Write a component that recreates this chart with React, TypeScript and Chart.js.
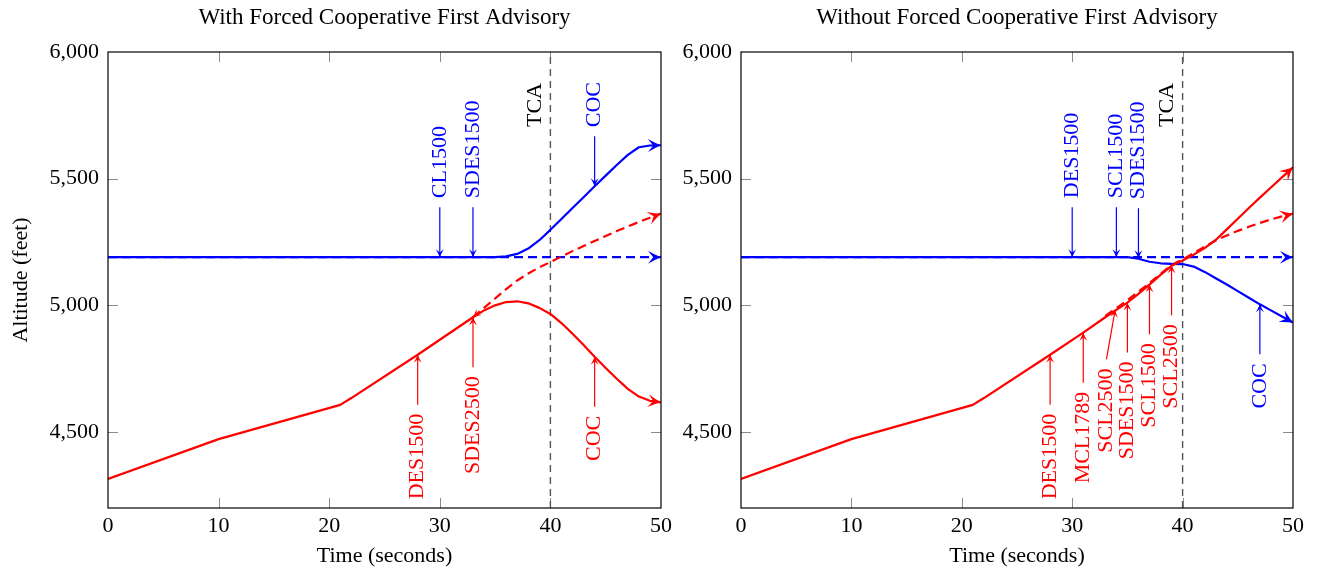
import React, { useEffect, useRef } from "react";
import { Chart, registerables } from "chart.js";

Chart.register(...registerables);

const FONT_FAMILY = '"Liberation Serif", "Times New Roman", serif';
const FONT_SIZE = 22;
const TITLE_SIZE = 23;
const OWN_COLOR = "#0000ff";
const INTRUDER_COLOR = "#ff0000";
const TCA_COLOR = "#555555";
const TICK_COLOR = "#8a8a8a";

// Axes
const xTicks = [0, 10, 20, 30, 40, 50];
const xTickLabels = ["0", "10", "20", "30", "40", "50"];
const yTicks = [4500, 5000, 5500, 6000];
const yTickLabels = ["4,500", "5,000", "5,500", "6,000"];
const timeMin = 0;
const timeMax = 50;
const altMin = 4200;
const altMax = 6000;
const tcaTime = 40;

// Panel 1: with forced cooperative first advisory
const withOwnT = [0, 35, 36, 37, 38, 39, 40, 41, 42, 43, 44, 45, 46, 47, 48, 49, 50];
const withOwnAlt = [5190, 5190, 5193, 5203, 5224, 5257, 5298, 5341, 5384, 5427, 5470, 5512, 5554, 5594, 5624, 5631, 5632];
const withOwnPlanT = [0, 50];
const withOwnPlanAlt = [5190, 5190];
const withIntruderT = [0, 10, 21, 22, 28, 33, 34, 35, 36, 37, 38, 39, 40, 41, 42, 43, 44, 45, 46, 47, 48, 49, 50];
const withIntruderAlt = [4315, 4472, 4607, 4634, 4805, 4953, 4980, 5000, 5013, 5016, 5008, 4990, 4966, 4930, 4888, 4843, 4797, 4753, 4710, 4670, 4640, 4623, 4617];
const withIntruderPlanT = [33, 34, 35, 36, 37, 38, 39, 40, 41, 42, 43, 44, 45, 46, 47, 48, 49, 50];
const withIntruderPlanAlt = [4953, 4990, 5027, 5064, 5098, 5126, 5150, 5171, 5193, 5214, 5234, 5254, 5274, 5293, 5311, 5329, 5346, 5362];

type Advisory = { label: string; t: number; alt: number; labelT?: number };

const withOwnAdvisories: Advisory[] = [
  { label: "CL1500", t: 30, alt: 5190 },
  { label: "SDES1500", t: 33, alt: 5190 },
  { label: "COC", t: 44, alt: 5470 },
];
const withIntruderAdvisories: Advisory[] = [
  { label: "DES1500", t: 28, alt: 4805 },
  { label: "SDES2500", t: 33, alt: 4953 },
  { label: "COC", t: 44, alt: 4797 },
];

// Panel 2: without forced cooperative first advisory
const withoutOwnT = [0, 35, 36, 37, 38, 39, 40, 41, 42, 43, 44, 45, 46, 47, 48, 49, 50];
const withoutOwnAlt = [5190, 5190, 5184, 5172, 5166, 5164, 5163, 5153, 5132, 5107, 5082, 5056, 5030, 5004, 4980, 4956, 4932];
const withoutOwnPlanT = [0, 50];
const withoutOwnPlanAlt = [5190, 5190];
const withoutIntruderT = [0, 10, 21, 22, 28, 31, 33, 34, 35, 36, 37, 38, 39, 40, 41, 42, 43, 44, 45, 46, 47, 48, 49, 50];
const withoutIntruderAlt = [4315, 4472, 4607, 4634, 4805, 4892, 4953, 4982, 5011, 5045, 5082, 5120, 5156, 5177, 5200, 5226, 5258, 5300, 5342, 5384, 5425, 5465, 5505, 5545];
const withoutIntruderPlanT = [33, 35, 37, 39, 40, 41, 42, 43, 44, 45, 46, 47, 48, 49, 50];
const withoutIntruderPlanAlt = [4958, 5020, 5088, 5160, 5181, 5206, 5232, 5256, 5276, 5294, 5310, 5325, 5339, 5351, 5362];

const withoutOwnAdvisories: Advisory[] = [
  { label: "DES1500", t: 30, alt: 5190 },
  { label: "SCL1500", t: 34, alt: 5190 },
  { label: "SDES1500", t: 36, alt: 5186 },
  { label: "COC", t: 47, alt: 5004 },
];
const withoutIntruderAdvisories: Advisory[] = [
  { label: "DES1500", t: 28, alt: 4805 },
  { label: "MCL1789", t: 31, alt: 4892 },
  { label: "SCL2500", t: 33.9, alt: 4984, labelT: 33.1 },
  { label: "SDES1500", t: 35, alt: 5011 },
  { label: "SCL1500", t: 37, alt: 5083 },
  { label: "SCL2500", t: 39, alt: 5158 },
];

type Track = { t: number[]; alt: number[] };

type PanelSpec = {
  title: string;
  own: Track;
  ownPlan: Track;
  intruder: Track;
  intruderPlan: Track;
  ownAdvisories: Advisory[];
  intruderAdvisories: Advisory[];
  yTitle: boolean;
  left: number;
  width: number;
  axisWidth: number;
  padRight: number;
  planStartArrow: boolean;
};

const HEIGHT = 574;

const panels: PanelSpec[] = [
  {
    title: "With Forced Cooperative First Advisory",
    own: { t: withOwnT, alt: withOwnAlt },
    ownPlan: { t: withOwnPlanT, alt: withOwnPlanAlt },
    intruder: { t: withIntruderT, alt: withIntruderAlt },
    intruderPlan: { t: withIntruderPlanT, alt: withIntruderPlanAlt },
    ownAdvisories: withOwnAdvisories,
    intruderAdvisories: withIntruderAdvisories,
    yTitle: true,
    left: 0,
    width: 680,
    axisWidth: 108,
    padRight: 19,
    planStartArrow: true,
  },
  {
    title: "Without Forced Cooperative First Advisory",
    own: { t: withoutOwnT, alt: withoutOwnAlt },
    ownPlan: { t: withoutOwnPlanT, alt: withoutOwnPlanAlt },
    intruder: { t: withoutIntruderT, alt: withoutIntruderAlt },
    intruderPlan: { t: withoutIntruderPlanT, alt: withoutIntruderPlanAlt },
    ownAdvisories: withoutOwnAdvisories,
    intruderAdvisories: withoutIntruderAdvisories,
    yTitle: false,
    left: 680,
    width: 641,
    axisWidth: 61,
    padRight: 28,
    planStartArrow: false,
  },
];

const font = (size = FONT_SIZE) => `${size}px ${FONT_FAMILY}`;

function toPoints(track: Track) {
  return track.t.map((t, i) => ({ x: t, y: track.alt[i] }));
}

// Altitude of a track at time t (used only to pick the label side).
function altAt(track: Track, t: number) {
  const { t: ts, alt } = track;
  if (t <= ts[0]) return alt[0];
  for (let i = 1; i < ts.length; i++) {
    if (t <= ts[i]) {
      const f = (t - ts[i - 1]) / (ts[i] - ts[i - 1]);
      return alt[i - 1] + f * (alt[i] - alt[i - 1]);
    }
  }
  return alt[alt.length - 1];
}

function stealth(ctx: CanvasRenderingContext2D, x: number, y: number, ang: number, len: number, half: number, color: string) {
  ctx.save();
  ctx.translate(x, y);
  ctx.rotate(ang);
  ctx.beginPath();
  ctx.moveTo(0, 0);
  ctx.quadraticCurveTo(-len * 0.45, -half * 0.35, -len, -half);
  ctx.lineTo(-len * 0.6, 0);
  ctx.lineTo(-len, half);
  ctx.quadraticCurveTo(-len * 0.45, half * 0.35, 0, 0);
  ctx.closePath();
  ctx.fillStyle = color;
  ctx.fill();
  ctx.restore();
}

function makeOverlay(spec: PanelSpec) {
  return {
    id: "overlay",
    beforeDatasetsDraw(chart: any) {
      const { ctx, chartArea: a, scales } = chart;
      const x = scales.x;
      const y = scales.y;
      ctx.save();
      // inward ticks on all four sides
      ctx.strokeStyle = TICK_COLOR;
      ctx.lineWidth = 1;
      ctx.beginPath();
      xTicks.forEach((v) => {
        if (v <= timeMin || v >= timeMax) return;
        const px = Math.round(x.getPixelForValue(v)) + 0.5;
        ctx.moveTo(px, a.bottom);
        ctx.lineTo(px, a.bottom - 10);
        ctx.moveTo(px, a.top);
        ctx.lineTo(px, a.top + 10);
      });
      yTicks.forEach((v) => {
        if (v <= altMin || v >= altMax) return;
        const py = Math.round(y.getPixelForValue(v)) + 0.5;
        ctx.moveTo(a.left, py);
        ctx.lineTo(a.left + 10, py);
        ctx.moveTo(a.right, py);
        ctx.lineTo(a.right - 10, py);
      });
      ctx.stroke();

      // time of closest approach
      const tx = x.getPixelForValue(tcaTime);
      ctx.strokeStyle = TCA_COLOR;
      ctx.lineWidth = 1.4;
      ctx.setLineDash([7, 5]);
      ctx.beginPath();
      ctx.moveTo(tx, a.bottom);
      ctx.lineTo(tx, a.top);
      ctx.stroke();
      ctx.setLineDash([]);
      ctx.restore();
    },
    afterDatasetsDraw(chart: any) {
      const { ctx, chartArea: a, scales } = chart;
      const x = scales.x;
      const y = scales.y;
      ctx.save();

      // arrow tips at the end of each track
      chart.data.datasets.forEach((ds: any, i: number) => {
        const pts = chart.getDatasetMeta(i).data;
        const n = pts.length;
        const end = pts[n - 1];
        const prev = pts[n - 2];
        stealth(ctx, end.x, end.y, Math.atan2(end.y - prev.y, end.x - prev.x), 13, 6.5, ds.borderColor);
        if (ds.startArrow) {
          const p0 = pts[0];
          const p1 = pts[1];
          stealth(ctx, p0.x, p0.y, Math.atan2(p0.y - p1.y, p0.x - p1.x), 8, 4, ds.borderColor);
        }
      });

      // advisory call-outs
      const drawAdvisories = (list: Advisory[], self: Track, other: Track, color: string) => {
        list.forEach((adv) => {
          const tipX = x.getPixelForValue(adv.t);
          const tipY = y.getPixelForValue(adv.alt);
          const labelX = x.getPixelForValue(adv.labelT ?? adv.t);
          const above = altAt(self, adv.t) > altAt(other, adv.t);
          const tailY = above ? tipY - 50 : tipY + 50;
          ctx.strokeStyle = color;
          ctx.lineWidth = 1.2;
          ctx.beginPath();
          ctx.moveTo(labelX, tailY);
          ctx.lineTo(tipX, tipY);
          ctx.stroke();
          stealth(ctx, tipX, tipY, Math.atan2(tipY - tailY, tipX - labelX), 8, 4, color);

          ctx.save();
          ctx.fillStyle = color;
          ctx.font = font();
          ctx.textBaseline = "middle";
          ctx.translate(labelX, above ? tailY - 9 : tailY + 9);
          ctx.rotate(-Math.PI / 2);
          ctx.textAlign = above ? "left" : "right";
          ctx.fillText(adv.label, 0, 0);
          ctx.restore();
        });
      };
      drawAdvisories(spec.ownAdvisories, spec.own, spec.intruder, OWN_COLOR);
      drawAdvisories(spec.intruderAdvisories, spec.intruder, spec.own, INTRUDER_COLOR);

      // TCA label
      const tx = x.getPixelForValue(tcaTime);
      ctx.save();
      ctx.fillStyle = "#000";
      ctx.font = font();
      ctx.textBaseline = "middle";
      ctx.translate(tx - 15, a.top + 75);
      ctx.rotate(-Math.PI / 2);
      ctx.textAlign = "left";
      ctx.fillText("TCA", 0, 0);
      ctx.restore();

      ctx.restore();
    },
    afterDraw(chart: any) {
      const { ctx, chartArea: a } = chart;
      ctx.save();
      // frame
      ctx.strokeStyle = "#000";
      ctx.lineWidth = 1.2;
      ctx.strokeRect(a.left, a.top, a.right - a.left, a.bottom - a.top);
      // title
      ctx.fillStyle = "#000";
      ctx.font = font(TITLE_SIZE);
      ctx.textAlign = "center";
      ctx.textBaseline = "middle";
      ctx.fillText(spec.title, (a.left + a.right) / 2, 18);
      ctx.restore();
    },
  };
}

function buildConfig(spec: PanelSpec): any {
  const line = (track: Track, color: string, dashed: boolean, startArrow = false) => ({
    data: toPoints(track),
    borderColor: color,
    backgroundColor: color,
    borderWidth: 2.2,
    borderDash: dashed ? [9, 5] : [],
    pointRadius: 0,
    fill: false,
    tension: 0,
    borderJoinStyle: "round",
    startArrow,
  });
  return {
    type: "line",
    data: {
      datasets: [
        line(spec.intruder, INTRUDER_COLOR, false),
        line(spec.own, OWN_COLOR, false),
        line(spec.intruderPlan, INTRUDER_COLOR, true, spec.planStartArrow),
        line(spec.ownPlan, OWN_COLOR, true),
      ],
    },
    options: {
      responsive: false,
      animation: false,
      devicePixelRatio: 1,
      events: [],
      layout: { padding: { top: 52, right: spec.padRight, left: 0, bottom: 0 } },
      plugins: { legend: { display: false }, tooltip: { enabled: false }, title: { display: false } },
      scales: {
        x: {
          type: "linear",
          min: timeMin,
          max: timeMax,
          afterBuildTicks: (s: any) => {
            s.ticks = xTicks.map((v) => ({ value: v }));
          },
          afterFit: (s: any) => {
            s.height = 66;
          },
          grid: { display: false, drawTicks: false },
          border: { display: false },
          ticks: {
            font: { family: FONT_FAMILY, size: FONT_SIZE },
            color: "#000",
            padding: 5,
            maxRotation: 0,
            autoSkip: false,
            callback: (_v: number, i: number) => xTickLabels[i],
          },
          title: {
            display: true,
            text: "Time (seconds)",
            color: "#000",
            font: { family: FONT_FAMILY, size: FONT_SIZE },
            padding: { top: 0, bottom: 5 },
          },
        },
        y: {
          type: "linear",
          min: altMin,
          max: altMax,
          afterBuildTicks: (s: any) => {
            s.ticks = yTicks.map((v) => ({ value: v }));
          },
          afterFit: (s: any) => {
            s.width = spec.axisWidth;
          },
          grid: { display: false, drawTicks: false },
          border: { display: false },
          ticks: {
            font: { family: FONT_FAMILY, size: FONT_SIZE },
            color: "#000",
            padding: 9,
            autoSkip: false,
            callback: (_v: number, i: number) => yTickLabels[i],
          },
          title: {
            display: spec.yTitle,
            text: "Altitude (feet)",
            color: "#000",
            font: { family: FONT_FAMILY, size: FONT_SIZE },
            padding: { top: 8, bottom: 0 },
          },
        },
      },
    },
    plugins: [makeOverlay(spec)],
  };
}

function Panel({ spec }: { spec: PanelSpec }) {
  const ref = useRef<HTMLCanvasElement>(null);
  useEffect(() => {
    const chart = new Chart(ref.current!, buildConfig(spec));
    return () => chart.destroy();
  }, [spec]);
  return (
    <canvas
      ref={ref}
      width={spec.width}
      height={HEIGHT}
      style={{ position: "absolute", left: spec.left, top: 0, width: spec.width, height: HEIGHT }}
    />
  );
}

export default function App() {
  return (
    <div style={{ position: "absolute", left: 0, top: 0, width: 1321, height: HEIGHT, background: "#fff", overflow: "hidden" }}>
      {panels.map((p) => (
        <Panel key={p.title} spec={p} />
      ))}
    </div>
  );
}
